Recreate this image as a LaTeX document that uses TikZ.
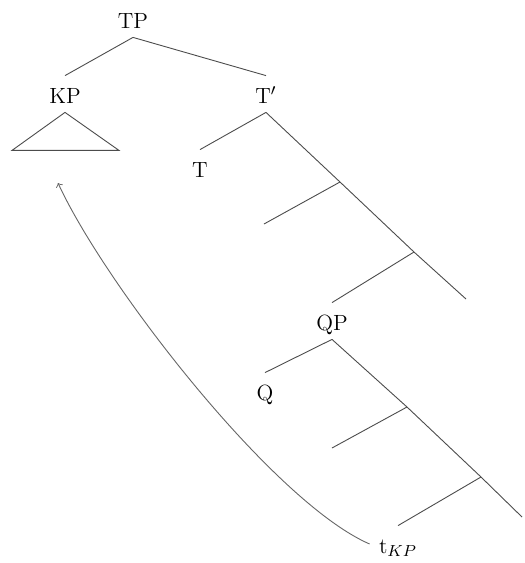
\documentclass[tikz,border=0pt]{standalone}
\usepackage{tikz}

\begin{document}
\begin{tikzpicture}[
  x=0.5pt, y=-0.5pt,
  every node/.style={inner sep=4.5pt, text height=9pt, text depth=0pt, font=\fontsize{11}{13}\selectfont},
  branch/.style={draw=black!70, line width=0.45pt},
  movement/.style={draw=black!60, line width=0.45pt, ->}
]
\useasboundingbox (0,0) rectangle (525,563);
% labelled nodes
\node (TP) at (133,19) {TP};
\node (KP) at (65,94) {KP};
\node (Tbar) at (266,94) {T$'$};
\node (T) at (200,168) {T};
\node (QP) at (332,321) {QP};
\node (Q) at (265,391) {Q};
\node (tKP) at (398,544) {t$_{KP}$};
% bare branch points
\coordinate (s1) at (340,182);
\coordinate (s2) at (414,252);
\coordinate (e1) at (264,224);
\coordinate (e2) at (466,299);
\coordinate (s3) at (407,407);
\coordinate (s4) at (481,477);
\coordinate (e3) at (332,448);
\coordinate (e4) at (522,517);
\coordinate (trace) at (58,183);

\draw[branch] (TP.south) -- (KP.north);
\draw[branch] (TP.south) -- (Tbar.north);
\draw[branch] (KP.south) -- +(-53,38) -- +(54,38) -- cycle;
\draw[branch] (Tbar.south) -- (T.north);
\draw[branch] (Tbar.south) -- (s1) -- (s2) -- (e2);
\draw[branch] (s1) -- (e1);
\draw[branch] (s2) -- (QP.north);
\draw[branch] (QP.south) -- (Q.north);
\draw[branch] (QP.south) -- (s3) -- (s4) -- (e4);
\draw[branch] (s3) -- (e3);
\draw[branch] (s4) -- (tKP.north);

% movement of KP
\draw[movement] (tKP.west) .. controls (273,502) and (105,285) .. (trace);
\end{tikzpicture}
\end{document}
